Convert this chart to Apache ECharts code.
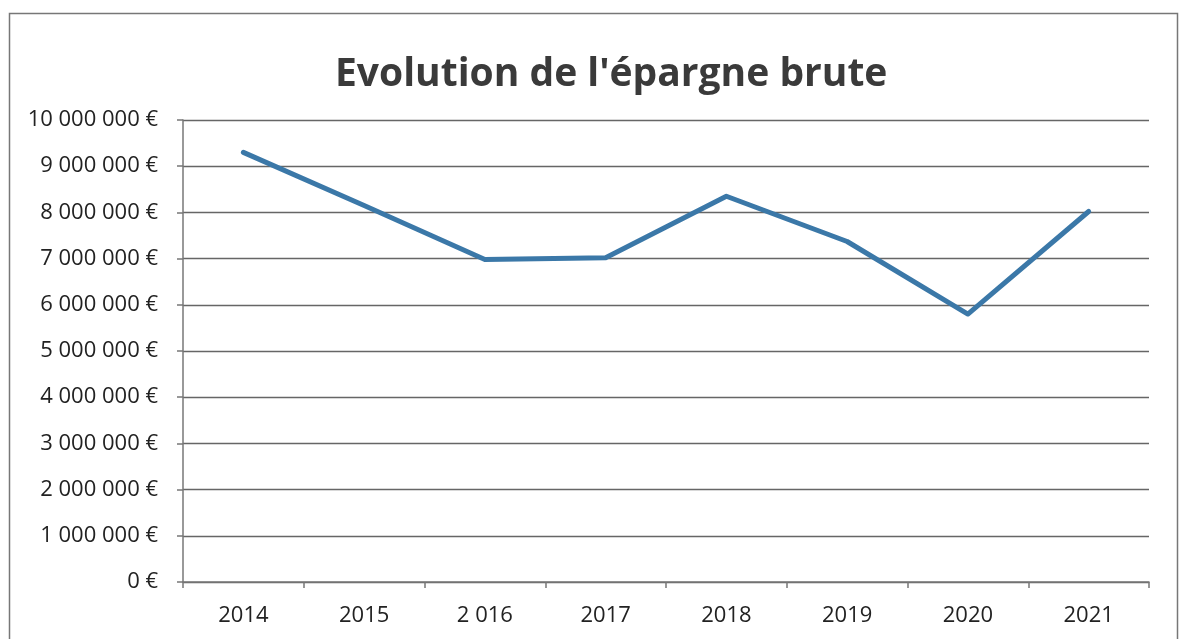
<!DOCTYPE html>
<html>
<head>
<meta charset="utf-8">
<script src="https://cdn.jsdelivr.net/npm/echarts@6/dist/echarts.min.js"></script>
<style>
  html, body { margin: 0; padding: 0; background: #fff; }
  #chart { width: 1180px; height: 639px; }
</style>
</head>
<body>
<div id="chart"></div>
<script>
// données
const years = ['2014', '2015', '2 016', '2017', '2018', '2019', '2020', '2021'];
const epargne = [9300000, 8150000, 6980000, 7020000, 8350000, 7370000, 5800000, 8020000];
const yTicks = { min: 0, max: 10000000, step: 1000000 };

const chart = echarts.init(document.getElementById('chart'));

// format "10 000 000 €"
function euro(v) {
  return String(Math.round(v)).replace(/\B(?=(\d{3})+(?!\d))/g, ' ') + ' €';
}

const font = '"Open Sans", Lato, sans-serif';

const option = {
  backgroundColor: '#fff',
  animation: false,
  title: {
    text: "Evolution de l'épargne brute",
    left: 330,
    top: 50,
    textStyle: { fontFamily: font, fontSize: 39, fontWeight: 'bold', color: '#3a3a3a' }
  },
  graphic: [{
    type: 'rect',
    shape: { x: 9.5, y: 13.5, width: 1168, height: 660 },
    style: { fill: 'none', stroke: '#777', lineWidth: 1.5 },
    silent: true
  }],
  grid: { left: 183, right: 31, top: 120, bottom: 57 },
  xAxis: {
    type: 'category',
    data: years,
    boundaryGap: true,
    axisLine: { lineStyle: { color: '#777', width: 1.5 } },
    axisTick: { show: true, length: 6, lineStyle: { color: '#777', width: 1.5 } },
    axisLabel: { fontFamily: font, fontSize: 22, color: '#222', margin: 23 }
  },
  yAxis: {
    type: 'value',
    min: yTicks.min,
    max: yTicks.max,
    interval: yTicks.step,
    axisLine: { show: true, lineStyle: { color: '#777', width: 1.5 } },
    axisTick: { show: true, length: 6, lineStyle: { color: '#777', width: 1.5 } },
    splitLine: { lineStyle: { color: '#666', width: 1.3 } },
    axisLabel: { fontFamily: font, fontSize: 22, color: '#222', margin: 25, formatter: euro }
  },
  series: [{
    type: 'line',
    data: epargne,
    symbol: 'none',
    lineStyle: { color: '#3b78a8', width: 5, cap: 'round', join: 'round' }
  }]
};

chart.setOption(option);
window.addEventListener('resize', () => chart.resize());
</script>
</body>
</html>
